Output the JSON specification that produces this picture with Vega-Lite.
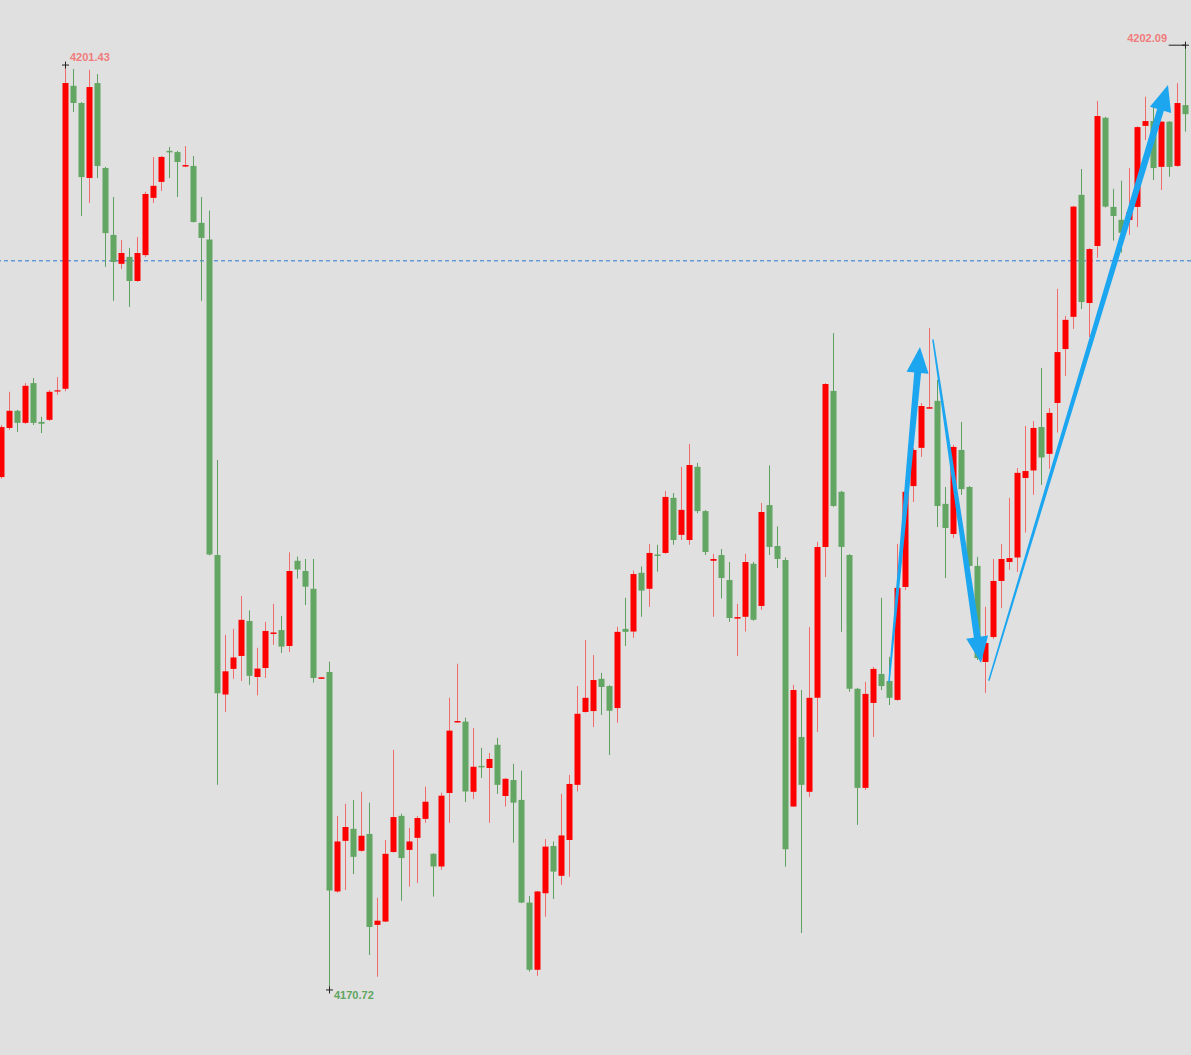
{
"$schema":"https://vega.github.io/schema/vega-lite/v6.json",
"width":1191,"height":1055,"padding":0,"autosize":{"type":"none"},
"background":"#e0e0e0",
"config":{"view":{"stroke":null},"scale":{"continuousPadding":0}},
"datasets":{
"candles":[
{"i":0,"o":4187.75,"h":4189.48,"l":4187.70,"c":4189.41},
{"i":1,"o":4189.38,"h":4190.58,"l":4189.31,"c":4189.95},
{"i":2,"o":4189.95,"h":4189.98,"l":4189.25,"c":4189.55},
{"i":3,"o":4189.55,"h":4190.87,"l":4189.51,"c":4190.78},
{"i":4,"o":4190.87,"h":4191.04,"l":4189.48,"c":4189.55},
{"i":5,"o":4189.58,"h":4189.75,"l":4189.21,"c":4189.52},
{"i":6,"o":4189.65,"h":4190.64,"l":4189.61,"c":4190.58},
{"i":7,"o":4190.59,"h":4191.07,"l":4190.48,"c":4190.63},
{"i":8,"o":4190.68,"h":4201.43,"l":4190.60,"c":4200.83},
{"i":9,"o":4200.74,"h":4201.30,"l":4199.87,"c":4200.17},
{"i":10,"o":4200.17,"h":4200.20,"l":4196.42,"c":4197.71},
{"i":11,"o":4197.68,"h":4201.27,"l":4196.85,"c":4200.70},
{"i":12,"o":4200.83,"h":4201.13,"l":4197.68,"c":4198.08},
{"i":13,"o":4198.01,"h":4198.05,"l":4194.73,"c":4195.85},
{"i":14,"o":4195.79,"h":4197.05,"l":4193.60,"c":4194.89},
{"i":15,"o":4194.83,"h":4195.62,"l":4194.66,"c":4195.19},
{"i":16,"o":4195.06,"h":4195.36,"l":4193.40,"c":4194.26},
{"i":17,"o":4194.26,"h":4195.72,"l":4194.23,"c":4195.19},
{"i":18,"o":4195.12,"h":4197.22,"l":4195.06,"c":4197.15},
{"i":19,"o":4197.02,"h":4198.38,"l":4196.85,"c":4197.42},
{"i":20,"o":4197.55,"h":4198.41,"l":4197.25,"c":4198.38},
{"i":21,"o":4198.58,"h":4198.71,"l":4197.68,"c":4198.53},
{"i":22,"o":4198.54,"h":4198.58,"l":4197.05,"c":4198.21},
{"i":23,"o":4198.06,"h":4198.74,"l":4198.04,"c":4198.11},
{"i":24,"o":4198.08,"h":4198.41,"l":4196.20,"c":4196.22},
{"i":25,"o":4196.19,"h":4197.05,"l":4193.60,"c":4195.69},
{"i":26,"o":4195.64,"h":4196.60,"l":4185.15,"c":4185.18},
{"i":27,"o":4185.16,"h":4188.32,"l":4177.53,"c":4180.57},
{"i":28,"o":4180.53,"h":4182.51,"l":4179.95,"c":4181.30},
{"i":29,"o":4181.38,"h":4182.71,"l":4181.05,"c":4181.76},
{"i":30,"o":4181.81,"h":4183.80,"l":4180.98,"c":4183.01},
{"i":31,"o":4182.97,"h":4183.32,"l":4180.85,"c":4181.15},
{"i":32,"o":4181.11,"h":4182.08,"l":4180.50,"c":4181.39},
{"i":33,"o":4181.41,"h":4182.94,"l":4181.08,"c":4182.64},
{"i":34,"o":4182.54,"h":4183.54,"l":4182.18,"c":4182.59},
{"i":35,"o":4182.67,"h":4183.14,"l":4181.91,"c":4182.12},
{"i":36,"o":4182.14,"h":4185.25,"l":4181.94,"c":4184.63},
{"i":37,"o":4184.97,"h":4185.11,"l":4184.38,"c":4184.68},
{"i":38,"o":4184.63,"h":4185.03,"l":4183.50,"c":4184.11},
{"i":39,"o":4184.04,"h":4185.03,"l":4180.92,"c":4181.08},
{"i":40,"o":4181.05,"h":4181.10,"l":4181.05,"c":4181.10},
{"i":41,"o":4181.28,"h":4181.62,"l":4170.72,"c":4174.02},
{"i":42,"o":4173.99,"h":4176.50,"l":4173.95,"c":4175.65},
{"i":43,"o":4175.67,"h":4176.90,"l":4174.04,"c":4176.13},
{"i":44,"o":4176.07,"h":4177.03,"l":4174.57,"c":4175.14},
{"i":45,"o":4175.34,"h":4177.30,"l":4175.31,"c":4175.84},
{"i":46,"o":4175.90,"h":4176.94,"l":4171.88,"c":4172.81},
{"i":47,"o":4172.88,"h":4173.78,"l":4171.16,"c":4173.02},
{"i":48,"o":4172.99,"h":4175.70,"l":4172.98,"c":4175.24},
{"i":49,"o":4175.30,"h":4178.69,"l":4175.28,"c":4176.46},
{"i":50,"o":4176.50,"h":4176.57,"l":4173.68,"c":4175.10},
{"i":51,"o":4175.37,"h":4176.10,"l":4174.15,"c":4175.65},
{"i":52,"o":4175.77,"h":4176.50,"l":4174.27,"c":4176.43},
{"i":53,"o":4176.40,"h":4177.47,"l":4176.27,"c":4176.97},
{"i":54,"o":4175.24,"h":4175.26,"l":4173.82,"c":4174.82},
{"i":55,"o":4174.82,"h":4177.27,"l":4174.71,"c":4177.17},
{"i":56,"o":4177.26,"h":4180.42,"l":4176.27,"c":4179.33},
{"i":57,"o":4179.60,"h":4181.55,"l":4179.60,"c":4179.65},
{"i":58,"o":4179.63,"h":4179.76,"l":4176.96,"c":4177.31},
{"i":59,"o":4177.30,"h":4179.42,"l":4177.06,"c":4178.13},
{"i":60,"o":4178.16,"h":4178.76,"l":4177.76,"c":4178.11},
{"i":61,"o":4178.09,"h":4178.59,"l":4176.27,"c":4178.39},
{"i":62,"o":4178.86,"h":4179.09,"l":4177.23,"c":4177.53},
{"i":63,"o":4177.16,"h":4177.76,"l":4176.81,"c":4177.73},
{"i":64,"o":4177.69,"h":4178.23,"l":4175.61,"c":4176.94},
{"i":65,"o":4177.03,"h":4178.00,"l":4173.60,"c":4173.62},
{"i":66,"o":4173.62,"h":4173.84,"l":4171.33,"c":4171.39},
{"i":67,"o":4171.39,"h":4174.01,"l":4171.19,"c":4173.99},
{"i":68,"o":4173.93,"h":4175.73,"l":4173.15,"c":4175.48},
{"i":69,"o":4175.50,"h":4175.65,"l":4173.74,"c":4174.65},
{"i":70,"o":4174.51,"h":4177.23,"l":4174.21,"c":4175.85},
{"i":71,"o":4175.70,"h":4177.86,"l":4174.48,"c":4177.56},
{"i":72,"o":4177.53,"h":4180.81,"l":4177.31,"c":4179.89},
{"i":73,"o":4179.95,"h":4182.34,"l":4179.93,"c":4180.42},
{"i":74,"o":4179.98,"h":4181.84,"l":4179.45,"c":4181.01},
{"i":75,"o":4181.05,"h":4181.25,"l":4179.85,"c":4180.78},
{"i":76,"o":4180.81,"h":4180.84,"l":4178.52,"c":4179.99},
{"i":77,"o":4180.08,"h":4182.78,"l":4179.59,"c":4182.61},
{"i":78,"o":4182.71,"h":4183.74,"l":4182.14,"c":4182.61},
{"i":79,"o":4182.62,"h":4184.64,"l":4182.41,"c":4184.53},
{"i":80,"o":4184.57,"h":4184.78,"l":4183.11,"c":4183.98},
{"i":81,"o":4184.04,"h":4185.53,"l":4183.44,"c":4185.23},
{"i":82,"o":4185.18,"h":4185.50,"l":4184.61,"c":4185.13},
{"i":83,"o":4185.23,"h":4187.29,"l":4185.20,"c":4187.09},
{"i":84,"o":4187.06,"h":4187.22,"l":4185.50,"c":4185.66},
{"i":85,"o":4185.83,"h":4188.09,"l":4185.66,"c":4186.66},
{"i":86,"o":4185.66,"h":4188.85,"l":4185.50,"c":4188.15},
{"i":87,"o":4188.09,"h":4188.22,"l":4186.55,"c":4186.62},
{"i":88,"o":4186.62,"h":4186.65,"l":4185.16,"c":4185.26},
{"i":89,"o":4184.97,"h":4185.20,"l":4183.11,"c":4185.03},
{"i":90,"o":4185.16,"h":4185.36,"l":4183.72,"c":4184.40},
{"i":91,"o":4184.33,"h":4184.93,"l":4182.94,"c":4183.07},
{"i":92,"o":4183.05,"h":4183.54,"l":4181.81,"c":4183.10},
{"i":93,"o":4183.11,"h":4185.20,"l":4182.62,"c":4184.93},
{"i":94,"o":4184.87,"h":4184.93,"l":4182.98,"c":4183.01},
{"i":95,"o":4183.47,"h":4186.89,"l":4183.34,"c":4186.59},
{"i":96,"o":4186.82,"h":4188.14,"l":4185.16,"c":4185.43},
{"i":97,"o":4185.46,"h":4186.11,"l":4184.73,"c":4185.03},
{"i":98,"o":4185.00,"h":4185.08,"l":4174.81,"c":4175.39},
{"i":99,"o":4176.81,"h":4180.85,"l":4176.80,"c":4180.68},
{"i":100,"o":4179.12,"h":4180.68,"l":4172.61,"c":4177.53},
{"i":101,"o":4177.30,"h":4182.77,"l":4177.13,"c":4180.42},
{"i":102,"o":4180.42,"h":4185.60,"l":4179.29,"c":4185.43},
{"i":103,"o":4185.43,"h":4190.87,"l":4184.43,"c":4190.84},
{"i":104,"o":4190.61,"h":4192.53,"l":4186.76,"c":4186.79},
{"i":105,"o":4187.26,"h":4187.29,"l":4182.61,"c":4185.43},
{"i":106,"o":4185.16,"h":4185.19,"l":4180.62,"c":4180.72},
{"i":107,"o":4180.72,"h":4180.75,"l":4176.20,"c":4177.43},
{"i":108,"o":4177.43,"h":4180.95,"l":4177.36,"c":4180.55},
{"i":109,"o":4180.25,"h":4181.45,"l":4179.12,"c":4181.38},
{"i":110,"o":4181.21,"h":4183.74,"l":4180.68,"c":4180.81},
{"i":111,"o":4180.98,"h":4181.78,"l":4180.18,"c":4180.42},
{"i":112,"o":4180.35,"h":4185.53,"l":4180.32,"c":4184.07},
{"i":113,"o":4184.10,"h":4187.65,"l":4184.00,"c":4187.26},
{"i":114,"o":4187.45,"h":4188.72,"l":4186.92,"c":4188.65},
{"i":115,"o":4188.72,"h":4190.21,"l":4188.42,"c":4190.11},
{"i":116,"o":4190.02,"h":4192.70,"l":4190.02,"c":4190.07},
{"i":117,"o":4190.28,"h":4190.97,"l":4186.09,"c":4186.79},
{"i":118,"o":4186.86,"h":4187.42,"l":4184.40,"c":4186.06},
{"i":119,"o":4185.86,"h":4188.82,"l":4185.73,"c":4188.75},
{"i":120,"o":4188.65,"h":4189.58,"l":4187.16,"c":4187.35},
{"i":121,"o":4187.42,"h":4187.45,"l":4184.77,"c":4184.80},
{"i":122,"o":4184.80,"h":4185.10,"l":4181.68,"c":4181.74},
{"i":123,"o":4181.61,"h":4183.44,"l":4180.58,"c":4182.24},
{"i":124,"o":4182.44,"h":4185.03,"l":4182.37,"c":4184.30},
{"i":125,"o":4184.30,"h":4185.53,"l":4183.40,"c":4185.03},
{"i":126,"o":4184.93,"h":4187.06,"l":4184.67,"c":4185.06},
{"i":127,"o":4185.08,"h":4188.05,"l":4184.60,"c":4187.89},
{"i":128,"o":4187.72,"h":4189.45,"l":4185.91,"c":4187.95},
{"i":129,"o":4187.97,"h":4189.61,"l":4187.16,"c":4189.38},
{"i":130,"o":4189.41,"h":4191.37,"l":4187.49,"c":4188.40},
{"i":131,"o":4188.52,"h":4190.04,"l":4188.02,"c":4189.88},
{"i":132,"o":4190.21,"h":4194.00,"l":4189.23,"c":4191.90},
{"i":133,"o":4192.00,"h":4193.10,"l":4191.11,"c":4192.97},
{"i":134,"o":4193.07,"h":4196.75,"l":4192.67,"c":4196.73},
{"i":135,"o":4197.12,"h":4197.98,"l":4193.33,"c":4193.56},
{"i":136,"o":4193.53,"h":4195.35,"l":4192.40,"c":4195.32},
{"i":137,"o":4195.42,"h":4200.24,"l":4195.03,"c":4199.74},
{"i":138,"o":4199.68,"h":4199.71,"l":4196.70,"c":4196.73},
{"i":139,"o":4196.72,"h":4197.32,"l":4195.60,"c":4196.42},
{"i":140,"o":4196.29,"h":4197.59,"l":4195.20,"c":4195.86},
{"i":141,"o":4196.29,"h":4198.01,"l":4195.79,"c":4196.55},
{"i":142,"o":4196.72,"h":4199.40,"l":4196.05,"c":4199.37},
{"i":143,"o":4199.41,"h":4200.38,"l":4198.94,"c":4199.57},
{"i":144,"o":4199.57,"h":4200.05,"l":4197.61,"c":4198.01},
{"i":145,"o":4198.05,"h":4199.57,"l":4197.28,"c":4199.55},
{"i":146,"o":4199.55,"h":4199.57,"l":4197.72,"c":4198.05},
{"i":147,"o":4198.08,"h":4200.83,"l":4198.05,"c":4200.17},
{"i":148,"o":4200.10,"h":4202.09,"l":4199.22,"c":4199.80}
],
"arrows":[
{"a":1,"k":0,"x":110.94,"y":4180.95},
{"a":1,"k":1,"x":114.59,"y":4191.41},
{"a":2,"k":0,"x":116.44,"y":4192.30},
{"a":2,"k":1,"x":122.08,"y":4182.24},
{"a":3,"k":0,"x":123.44,"y":4181.01},
{"a":3,"k":1,"x":145.09,"y":4200.13}
],
"extremes":[
{"i":8,"v":4201.43},
{"i":41,"v":4170.72},
{"i":148,"v":4202.09}
]
},
"layer":[
{"data":{"values":[{"v":4194.93}]},
 "mark":{"type":"rule","color":"#2a78d2","strokeWidth":1,"strokeDash":[4,3]},
 "encoding":{"y":{"field":"v","type":"quantitative","scale":{"domain":[4168.56,4203.59],"nice":false,"zero":false},"axis":null}}},
{"data":{"name":"candles"},
 "mark":{"type":"rule","strokeWidth":1},
 "encoding":{
  "x":{"field":"i","type":"quantitative","scale":{"domain":[-0.1875,148.6875],"nice":false,"zero":false,"padding":0},"axis":null},
  "y":{"field":"l","type":"quantitative","scale":{"domain":[4168.56,4203.59],"nice":false,"zero":false},"axis":null},
  "y2":{"field":"h"},
  "color":{"condition":{"test":"datum.c >= datum.o","value":"#f26a6a"},"value":"#5f9f5f"}}},
{"data":{"name":"candles"},
 "mark":{"type":"bar","width":6},
 "encoding":{
  "x":{"field":"i","type":"quantitative","scale":{"domain":[-0.1875,148.6875],"nice":false,"zero":false,"padding":0},"axis":null},
  "y":{"field":"o","type":"quantitative","scale":{"domain":[4168.56,4203.59],"nice":false,"zero":false},"axis":null},
  "y2":{"field":"c"},
  "color":{"condition":{"test":"datum.c >= datum.o","value":"#ff0000"},"value":"#63a563"}}},
{"data":{"name":"arrows"},
 "mark":{"type":"trail","color":"#1ca6f0"},
 "encoding":{
  "x":{"field":"x","type":"quantitative","scale":{"domain":[-0.1875,148.6875],"nice":false,"zero":false,"padding":0},"axis":null},
  "y":{"field":"y","type":"quantitative","scale":{"domain":[4168.56,4203.59],"nice":false,"zero":false},"axis":null},
  "size":{"field":"k","type":"quantitative","scale":{"domain":[0,1],"range":[1.5,7]},"legend":null},
  "detail":{"field":"a"},
  "order":{"field":"k"}}},
{"data":{"values":[{"x":114.81,"y":4192.07}]},
 "mark":{"type":"point","shape":"M0,0L0.85,2L-0.85,2Z","filled":true,"color":"#1ca6f0","opacity":1,"size":676,"angle":5.3},
 "encoding":{
  "x":{"field":"x","type":"quantitative","scale":{"domain":[-0.1875,148.6875],"nice":false,"zero":false,"padding":0},"axis":null},
  "y":{"field":"y","type":"quantitative","scale":{"domain":[4168.56,4203.59],"nice":false,"zero":false},"axis":null}}},
{"data":{"values":[{"x":122.44,"y":4181.58}]},
 "mark":{"type":"point","shape":"M0,0L0.85,2L-0.85,2Z","filled":true,"color":"#1ca6f0","opacity":1,"size":676,"angle":171.5},
 "encoding":{
  "x":{"field":"x","type":"quantitative","scale":{"domain":[-0.1875,148.6875],"nice":false,"zero":false,"padding":0},"axis":null},
  "y":{"field":"y","type":"quantitative","scale":{"domain":[4168.56,4203.59],"nice":false,"zero":false},"axis":null}}},
{"data":{"values":[{"x":145.81,"y":4200.77}]},
 "mark":{"type":"point","shape":"M0,0L0.85,2L-0.85,2Z","filled":true,"color":"#1ca6f0","opacity":1,"size":676,"angle":16.7},
 "encoding":{
  "x":{"field":"x","type":"quantitative","scale":{"domain":[-0.1875,148.6875],"nice":false,"zero":false,"padding":0},"axis":null},
  "y":{"field":"y","type":"quantitative","scale":{"domain":[4168.56,4203.59],"nice":false,"zero":false},"axis":null}}},
{"data":{"values":[{"x":145.9,"x2":148.0,"y":4202.09}]},
 "mark":{"type":"rule","color":"#222222","strokeWidth":1},
 "encoding":{
  "x":{"field":"x","type":"quantitative","scale":{"domain":[-0.1875,148.6875],"nice":false,"zero":false,"padding":0},"axis":null},
  "x2":{"field":"x2"},
  "y":{"field":"y","type":"quantitative","scale":{"domain":[4168.56,4203.59],"nice":false,"zero":false},"axis":null}}},
{"data":{"name":"extremes"},
 "mark":{"type":"point","shape":"M-1,0H1M0,-1V1","filled":false,"color":"#222222","opacity":1,"strokeWidth":1,"size":49},
 "encoding":{
  "x":{"field":"i","type":"quantitative","scale":{"domain":[-0.1875,148.6875],"nice":false,"zero":false,"padding":0},"axis":null},
  "y":{"field":"v","type":"quantitative","scale":{"domain":[4168.56,4203.59],"nice":false,"zero":false},"axis":null}}},
{"data":{"values":[{"i":8,"v":4201.43}]},
 "mark":{"type":"text","align":"left","baseline":"middle","dx":4.5,"dy":-7,"font":"Liberation Sans","fontSize":11,"fontWeight":"bold","color":"#f07b7b"},
 "encoding":{
  "x":{"field":"i","type":"quantitative","scale":{"domain":[-0.1875,148.6875],"nice":false,"zero":false,"padding":0},"axis":null},
  "y":{"field":"v","type":"quantitative","scale":{"domain":[4168.56,4203.59],"nice":false,"zero":false},"axis":null},
  "text":{"field":"v","type":"quantitative","format":".2f"}}},
{"data":{"values":[{"i":41,"v":4170.72}]},
 "mark":{"type":"text","align":"left","baseline":"middle","dx":4.5,"dy":6.5,"font":"Liberation Sans","fontSize":11,"fontWeight":"bold","color":"#5ea55e"},
 "encoding":{
  "x":{"field":"i","type":"quantitative","scale":{"domain":[-0.1875,148.6875],"nice":false,"zero":false,"padding":0},"axis":null},
  "y":{"field":"v","type":"quantitative","scale":{"domain":[4168.56,4203.59],"nice":false,"zero":false},"axis":null},
  "text":{"field":"v","type":"quantitative","format":".2f"}}},
{"data":{"values":[{"i":148,"v":4202.09}]},
 "mark":{"type":"text","align":"right","baseline":"middle","dx":-18.5,"dy":-6,"font":"Liberation Sans","fontSize":11,"fontWeight":"bold","color":"#f07b7b"},
 "encoding":{
  "x":{"field":"i","type":"quantitative","scale":{"domain":[-0.1875,148.6875],"nice":false,"zero":false,"padding":0},"axis":null},
  "y":{"field":"v","type":"quantitative","scale":{"domain":[4168.56,4203.59],"nice":false,"zero":false},"axis":null},
  "text":{"field":"v","type":"quantitative","format":".2f"}}}
]
}
